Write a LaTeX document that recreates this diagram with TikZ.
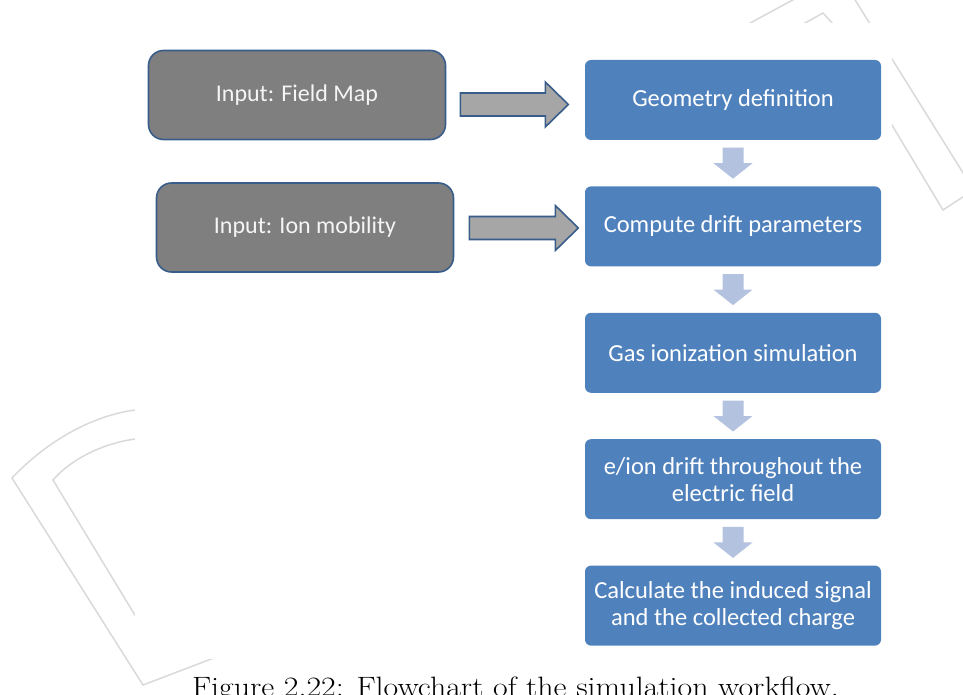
\documentclass[tikz,border=0pt]{standalone}
\usepackage{fontspec}
\newfontfamily\boxfont{Carlito}
\usetikzlibrary{shapes}
\usetikzlibrary{positioning}
\usetikzlibrary{calc}

\definecolor{stepblue}{HTML}{4F81BD}
\definecolor{inputgray}{HTML}{7F7F7F}
\definecolor{edgeblue}{HTML}{385D8A}
\definecolor{arrowgray}{HTML}{A6A6A6}
\definecolor{downblue}{HTML}{B3C2DE}
\definecolor{markgray}{HTML}{D9D9D9}

\tikzset{
  stepbox/.style={rectangle, rounded corners=6pt, fill=stepblue, text=white,
    minimum width=296pt, minimum height=80pt, align=center,
    font=\boxfont\fontsize{24.5}{27}\selectfont},
  inputbox/.style={rectangle, rounded corners=15pt, fill=inputgray, draw=edgeblue,
    line width=1.6pt, text=white!92!gray, minimum width=297pt, minimum height=89pt,
    font=\boxfont\fontsize{24}{27}\selectfont},
  wmline/.style={draw=markgray, line width=1.5pt},
  pics/blockarrow/.style={code={
    \draw[fill=arrowgray, draw=edgeblue, line width=1.6pt, line join=miter]
      (0,-11.5) -- (#1-23,-11.5) -- (#1-23,-22.5) -- (#1,0)
      -- (#1-23,22.5) -- (#1-23,11.5) -- (0,11.5) -- cycle;}},
  pics/downarrow/.style={code={
    \fill[downblue] (-10.5,-15.5) -- (-10.5,0) -- (-19.5,0) -- (0,15.5)
      -- (19.5,0) -- (10.5,0) -- (10.5,-15.5) -- cycle;}}
}

\begin{document}
\begin{tikzpicture}[x=1pt,y=-1pt]
  \useasboundingbox (0,0) rectangle (963,695);
  % watermark behind the figure
  \draw[wmline] (135,410) .. controls (90,416) and (45,443) .. (12,478) -- (143,685) -- (240,648);
  \draw[wmline] (135,439) .. controls (105,443) and (72,458) .. (53,480) -- (150,640);
  \draw[wmline] (730,34) -- (800,-4);
  \draw[wmline] (787,33) -- (823,13) -- (841,33);
  \draw[wmline] (852,-5) -- (975,192);
  \draw[wmline] (860,72) -- (943,210) -- (975,189);
  \fill[white] (135,23) rectangle (892,659);

  % steps
  \node[stepbox] (geo) at (733,100) {Geometry definition};
  \node[stepbox, below=46pt of geo] (drift) {Compute drift parameters};
  \node[stepbox, below=46pt of drift] (gas) {Gas ionization simulation};
  \node[stepbox, below=46pt of gas] (eion) {e/ion drift throughout the\\electric field};
  \node[stepbox, below=46pt of eion] (signal) {Calculate the induced signal\\and the collected charge};

  \foreach \a/\b in {geo/drift,drift/gas,gas/eion,eion/signal}
    \pic (\a-\b) at ($(\a.south)!0.5!(\b.north)$) {downarrow};

  % inputs
  \node[inputbox] (fmap) at (297,95) {Input: Field Map};
  \node[inputbox] (ion) at (305,227.5) {Input: Ion mobility};
  \pic (fmap-geo) at ($(fmap.east)+(14,9.5)$) {blockarrow=108};
  \pic (ion-drift) at ($(ion.east)+(15,0.5)$) {blockarrow=109};

  \node[anchor=base west, font=\fontsize{28}{32}\selectfont, xscale=1.138, transform shape]
    (cap) at (188,696) {Figure 2.22: Flowchart of the simulation workflow.};
\end{tikzpicture}
\end{document}
